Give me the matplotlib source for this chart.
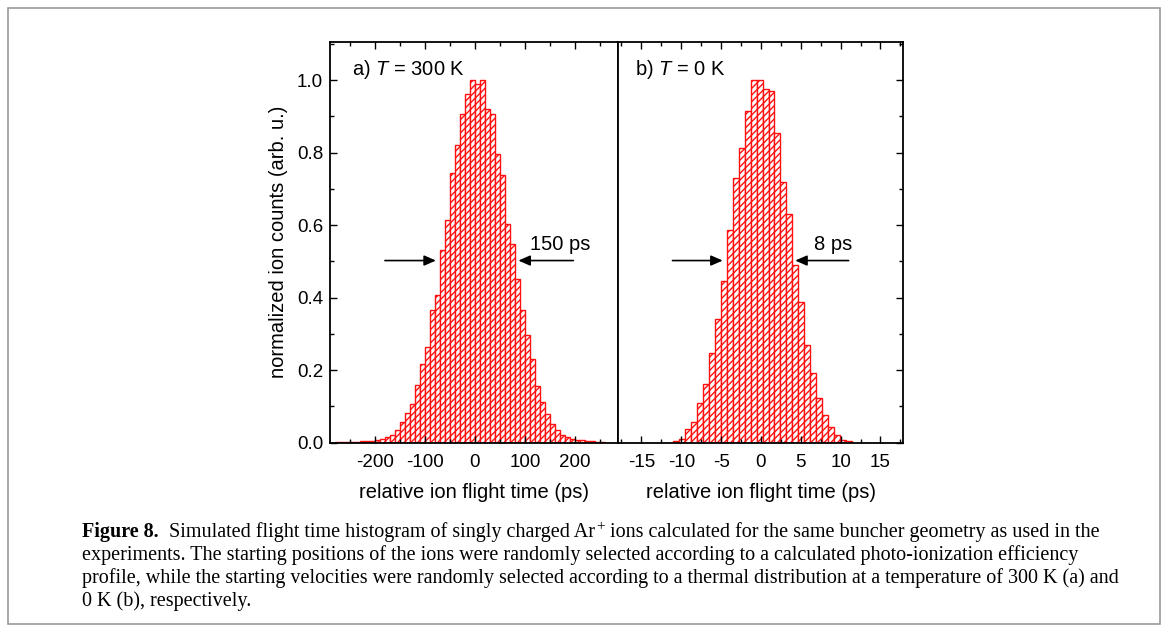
import numpy as np
import matplotlib
matplotlib.use("Agg")
import matplotlib.pyplot as plt
from matplotlib.patches import Rectangle
from matplotlib.text import Annotation
from matplotlib.ticker import MultipleLocator, FormatStrFormatter

plt.rcParams['font.family'] = 'Liberation Sans'
plt.rcParams['axes.unicode_minus'] = False
plt.rcParams['mathtext.fontset'] = 'custom'
plt.rcParams['mathtext.rm'] = 'Liberation Sans'
plt.rcParams['mathtext.it'] = 'Liberation Sans:italic'
plt.rcParams['hatch.linewidth'] = 1.0

# panel a: T = 300 K, 10 ps bins starting at -280 ps
a_start, a_width = -280, 10
a_counts = [0.001, 0.001, 0.002, 0.002, 0.002, 0.003, 0.003, 0.004,
            0.006, 0.011, 0.015, 0.021, 0.035, 0.056, 0.081, 0.106,
            0.158, 0.216, 0.263, 0.365, 0.408, 0.530, 0.614, 0.743,
            0.821, 0.906, 0.961, 1.000, 0.988, 0.999, 0.919, 0.906,
            0.796, 0.739, 0.603, 0.547, 0.450, 0.365, 0.297, 0.230,
            0.157, 0.112, 0.080, 0.050, 0.034, 0.021, 0.016, 0.011,
            0.008, 0.006, 0.004, 0.003, 0.002, 0.001]

# panel b: T = 0 K, 0.75 ps bins
b_start, b_width = -11.05, 0.75
b_counts = [0.005, 0.010, 0.038, 0.056, 0.109, 0.162, 0.246, 0.342,
            0.446, 0.587, 0.730, 0.812, 0.915, 0.999, 1.000, 0.974,
            0.970, 0.853, 0.720, 0.631, 0.489, 0.388, 0.269, 0.193,
            0.123, 0.075, 0.043, 0.020, 0.008, 0.004]

a_label = "a) $T$ = 300 K"
b_label = "b) $T$ = 0 K"
a_fwhm_text, b_fwhm_text = "150 ps", "8 ps"
xlabel = "relative ion flight time (ps)"
ylabel = "normalized ion counts (arb. u.)"

caption = [
    [("Figure 8.", dict(weight='bold')),
     ("  Simulated flight time histogram of singly charged Ar", {}),
     ("+", dict(sup=True)),
     (" ions calculated for the same buncher geometry as used in the", {})],
    [("experiments. The starting positions of the ions were randomly selected "
      "according to a calculated photo-ionization efficiency", {})],
    [("profile, while the starting velocities were randomly selected according "
      "to a thermal distribution at a temperature of 300 K (a) and", {})],
    [("0 K (b), respectively.", {})],
]

W, H = 1168, 632
fig = plt.figure(figsize=(W / 100, H / 100), dpi=100)

bottom = 1 - 442.5 / H
height = 400.5 / H
ax_a = fig.add_axes([330 / W, bottom, 288.3 / W, height])
ax_b = fig.add_axes([618.3 / W, bottom, 284.5 / W, height])

bar_style = dict(align='edge', facecolor='white', edgecolor='#ff1010',
                 hatch='/////', linewidth=1.0)
a_edges = a_start + a_width * np.arange(len(a_counts))
b_edges = b_start + b_width * np.arange(len(b_counts))
ax_a.bar(a_edges, a_counts, width=a_width, **bar_style)
ax_b.bar(b_edges, b_counts, width=b_width, **bar_style)

ax_a.set_xlim(-290, 287)
ax_b.set_xlim(-17.9, 17.8)
for ax in (ax_a, ax_b):
    ax.set_ylim(0, 1.105)
    for sp in ax.spines.values():
        sp.set_linewidth(1.3)
    ax.yaxis.set_major_locator(MultipleLocator(0.2))
    ax.yaxis.set_minor_locator(MultipleLocator(0.1))
    ax.tick_params(which='both', direction='in', labelsize=13.5, width=1.0)
    ax.tick_params(which='major', length=5, pad=8)
    ax.tick_params(which='minor', length=3)
    ax.set_xlabel(xlabel, fontsize=14.5, labelpad=9)

ax_a.xaxis.set_major_locator(MultipleLocator(100))
ax_a.xaxis.set_minor_locator(MultipleLocator(50))
ax_b.xaxis.set_major_locator(MultipleLocator(5))
ax_b.xaxis.set_minor_locator(MultipleLocator(2.5))

ax_a.tick_params(which='both', top=True, right=False)
ax_a.tick_params(axis='y', pad=5)
ax_a.yaxis.set_major_formatter(FormatStrFormatter('%.1f'))
ax_a.set_ylabel(ylabel, fontsize=14.5, labelpad=6)
ax_b.tick_params(which='both', top=True, left=False, right=True,
                 labelleft=False)

ax_a.text(0.076, 0.918, a_label, transform=ax_a.transAxes, fontsize=14.5,
          va='baseline')
ax_b.text(0.06, 0.918, b_label, transform=ax_b.transAxes, fontsize=14.5,
          va='baseline')

arrow = dict(arrowstyle='-|>,head_length=0.5,head_width=0.22', color='black',
             lw=1.2, mutation_scale=14, shrinkA=0, shrinkB=0)
ax_a.annotate("", xy=(-78, 0.502), xytext=(-180, 0.502), arrowprops=arrow)
ax_a.annotate("", xy=(87, 0.502), xytext=(197, 0.502), arrowprops=arrow)
ax_a.text(170, 0.545, a_fwhm_text, fontsize=14.5, ha='center', va='center')
ax_b.annotate("", xy=(-4.8, 0.502), xytext=(-11.1, 0.502), arrowprops=arrow)
ax_b.annotate("", xy=(4.3, 0.502), xytext=(11.0, 0.502), arrowprops=arrow)
ax_b.text(9.0, 0.545, b_fwhm_text, fontsize=14.5, ha='center', va='center')

# frame around the figure block
fig.add_artist(Rectangle((8 / W, 8 / H), 1152 / W, 616 / H,
                         transform=fig.transFigure, fill=False,
                         edgecolor='#9a9a9a', lw=1.2))

# caption: fit the font size so the longest line spans the same width
serif = 'Liberation Serif'
renderer = fig.canvas.get_renderer()
probe = fig.text(0, 0, caption[2][0][0], fontsize=13, family=serif)
cap_size = 13 * 1033 / probe.get_window_extent(renderer=renderer).width
probe.remove()

cap_x = 82 / W
for i, parts in enumerate(caption):
    y = 1 - (537 + 23 * i) / H
    prev = None
    for s, kw in parts:
        kw = dict(kw)
        sup = kw.pop('sup', False)
        size = cap_size * 0.75 if sup else cap_size
        if prev is None:
            prev = fig.text(cap_x, y, s, fontsize=size, family=serif,
                            va='baseline', **kw)
        else:
            ann = Annotation(s, xy=(1, y), xycoords=(prev, 'figure fraction'),
                             xytext=(1 if sup else 0, 5 if sup else 0),
                             textcoords='offset points', fontsize=size,
                             family=serif, va='baseline', ha='left', **kw)
            fig.add_artist(ann)
            prev = ann

fig.savefig("out.png", dpi=100)
